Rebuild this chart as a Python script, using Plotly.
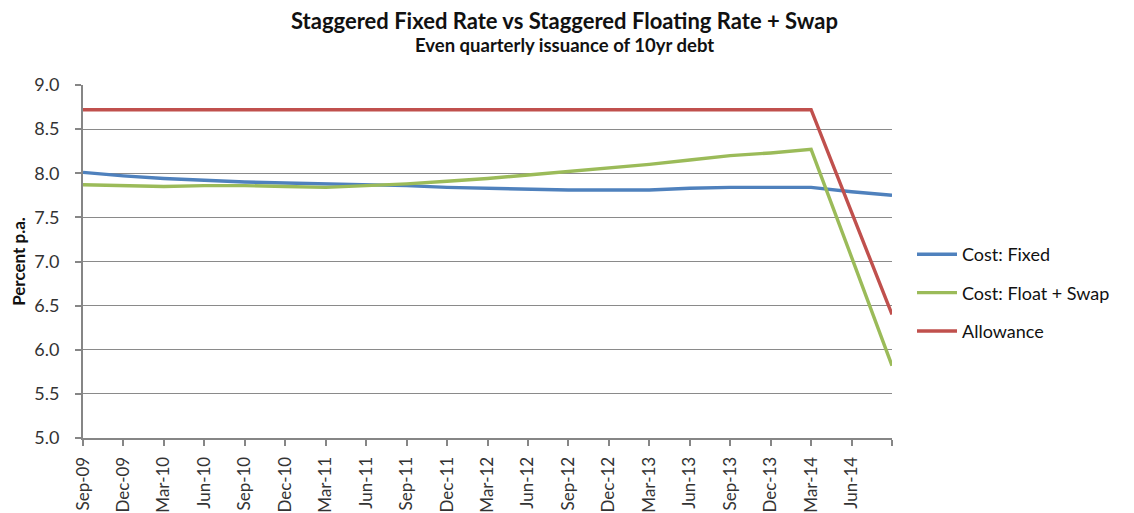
import plotly.graph_objects as go

# quarterly issuance dates (last point has no label on the original axis)
quarters = ['Sep-09', 'Dec-09', 'Mar-10', 'Jun-10', 'Sep-10', 'Dec-10', 'Mar-11',
            'Jun-11', 'Sep-11', 'Dec-11', 'Mar-12', 'Jun-12', 'Sep-12', 'Dec-12',
            'Mar-13', 'Jun-13', 'Sep-13', 'Dec-13', 'Mar-14', 'Jun-14', 'Sep-14']
tick_labels = quarters[:-1] + ['']

cost_fixed = [8.01, 7.97, 7.94, 7.92, 7.90, 7.89, 7.88, 7.87, 7.86, 7.84, 7.83,
              7.82, 7.81, 7.81, 7.81, 7.83, 7.84, 7.84, 7.84, 7.79, 7.75]
cost_float_swap = [7.87, 7.86, 7.85, 7.86, 7.86, 7.85, 7.84, 7.86, 7.88, 7.91, 7.94,
                   7.98, 8.02, 8.06, 8.10, 8.15, 8.20, 8.23, 8.27, 7.05, 5.82]
allowance = [8.72] * 19 + [7.56, 6.40]

y_ticks = [5.0, 5.5, 6.0, 6.5, 7.0, 7.5, 8.0, 8.5, 9.0]

FONT = 'Lato'
AXIS_GREY = '#868686'

# plot area in window pixels (the html page adds an 8px body margin)
PAGE_OFFSET = 8
PLOT_LEFT, PLOT_RIGHT, PLOT_TOP, PLOT_BOTTOM = 83, 892, 85, 438
WIDTH, HEIGHT = 1134, 513


def paper_x(px):
    return (px - PLOT_LEFT) / (PLOT_RIGHT - PLOT_LEFT)


def paper_y(py):
    return (PLOT_BOTTOM - py) / (PLOT_BOTTOM - PLOT_TOP)


series = [
    ('Cost: Fixed', cost_fixed, '#4F81BD'),
    ('Cost: Float + Swap', cost_float_swap, '#9BBB59'),
    ('Allowance', allowance, '#C0504D'),
]

fig = go.Figure()
xs = list(range(len(quarters)))
for name, values, colour in series:
    fig.add_trace(go.Scatter(x=xs, y=values, name=name, mode='lines',
                             legendgroup=name,
                             line=dict(color=colour, width=3.4)))

margin_l = PLOT_LEFT - PAGE_OFFSET
margin_t = PLOT_TOP - PAGE_OFFSET
margin_r = WIDTH - margin_l - (PLOT_RIGHT - PLOT_LEFT)
margin_b = HEIGHT - margin_t - (PLOT_BOTTOM - PLOT_TOP)

fig.update_layout(
    width=WIDTH, height=HEIGHT,
    margin=dict(l=margin_l, r=margin_r, t=margin_t, b=margin_b, autoexpand=False),
    plot_bgcolor='white', paper_bgcolor='white',
    font=dict(family=FONT, size=18, color='#333333'),
    showlegend=True,
    legend=dict(x=paper_x(912), y=paper_y(293), xanchor='left', yanchor='middle',
                font=dict(size=18, color='#111111'),
                traceorder='grouped', tracegroupgap=12, itemwidth=40,
                bgcolor='rgba(0,0,0,0)'),
    annotations=[
        dict(text='<b>Staggered Fixed Rate vs Staggered Floating Rate + Swap</b>',
             x=paper_x(564), y=paper_y(21), xref='paper', yref='paper',
             showarrow=False, yanchor='middle',
             font=dict(size=22, color='#111111')),
        dict(text='<b>Even quarterly issuance of 10yr debt</b>',
             x=paper_x(564), y=paper_y(45), xref='paper', yref='paper',
             showarrow=False, yanchor='middle',
             font=dict(size=18.5, color='#111111')),
    ],
)

fig.update_xaxes(
    range=[0, len(quarters) - 1],
    tickmode='array', tickvals=xs, ticktext=tick_labels,
    tickangle=-90, ticks='outside', ticklen=6, tickcolor=AXIS_GREY, tickwidth=1.5,
    ticklabelstandoff=4,
    showline=True, linecolor=AXIS_GREY, linewidth=2,
    showgrid=False, zeroline=False, automargin=False,
    tickfont=dict(size=17, color='#333333'),
)
fig.update_yaxes(
    range=[5.0, 9.0],
    tickmode='array', tickvals=y_ticks,
    ticktext=[f'{v:.1f}' for v in y_ticks],
    ticks='outside', ticklen=6, tickcolor=AXIS_GREY, tickwidth=1.5,
    ticklabelstandoff=12,
    showline=True, linecolor=AXIS_GREY, linewidth=2,
    showgrid=True, gridcolor='#8A8A8A', gridwidth=1.3,
    zeroline=False, automargin=False,
    title=dict(text='<b>Percent p.a.</b>', font=dict(size=17, color='#111111'),
               standoff=8),
    tickfont=dict(size=18, color='#333333'),
)

fig.write_html('out.html')
